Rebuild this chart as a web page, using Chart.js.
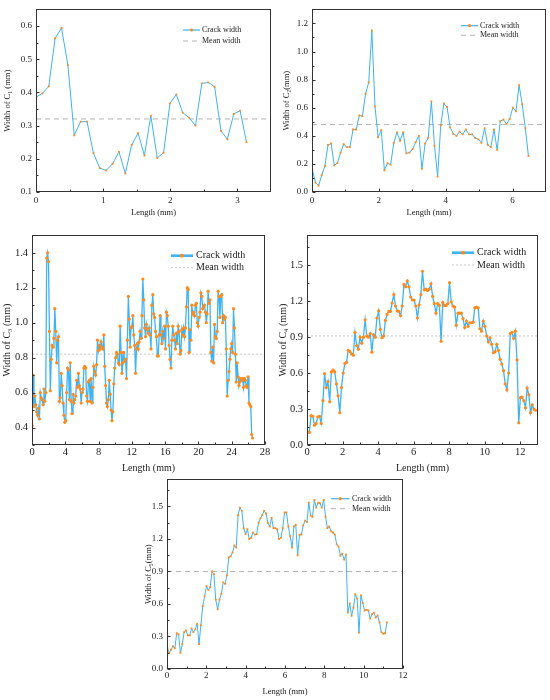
<!DOCTYPE html>
<html>
<head>
<meta charset="utf-8">
<script src="https://cdn.jsdelivr.net/npm/chart.js@4.4.1/dist/chart.umd.min.js"></script>
<style>
  body { margin: 0; background: #fff; }
  #page { position: relative; width: 550px; height: 700px; overflow: hidden; }
  canvas { position: absolute; }
</style>
</head>
<body>
<div id="page">
  <canvas id="c1" width="275" height="222" style="left:0;top:0"></canvas>
  <canvas id="c2" width="275" height="222" style="left:275px;top:0"></canvas>
  <canvas id="c3" width="280" height="255" style="left:0;top:225px"></canvas>
  <canvas id="c4" width="275" height="255" style="left:275px;top:225px"></canvas>
  <canvas id="c5" width="270" height="230" style="left:140px;top:470px"></canvas>
</div>
<script>
// crack widths (mm) read along each crack, sampled at a fixed length step
const c1Width = [0.386, 0.397, 0.418, 0.563, 0.594, 0.482, 0.271, 0.312, 0.312, 0.217,
    0.172, 0.165, 0.185, 0.221, 0.156, 0.242, 0.277, 0.21, 0.33, 0.203,
    0.218, 0.367, 0.394, 0.339, 0.324, 0.30, 0.427, 0.43, 0.417, 0.284,
    0.259, 0.335, 0.345, 0.25];
const c1Start = 0, c1Step = 0.095, c1Mean = 0.32;

const c2Width = [0.16, 0.067, 0.046, 0.12, 0.185, 0.335, 0.345, 0.19, 0.205, 0.28,
    0.34, 0.32, 0.32, 0.445, 0.445, 0.545, 0.54, 0.70, 0.78, 1.15,
    0.61, 0.39, 0.44, 0.155, 0.205, 0.195, 0.35, 0.425, 0.365, 0.425,
    0.275, 0.28, 0.305, 0.355, 0.40, 0.165, 0.345, 0.385, 0.645, 0.33,
    0.11, 0.475, 0.63, 0.605, 0.46, 0.415, 0.40, 0.43, 0.41, 0.445,
    0.41, 0.41, 0.385, 0.375, 0.35, 0.455, 0.335, 0.32, 0.445, 0.30,
    0.505, 0.515, 0.485, 0.52, 0.60, 0.575, 0.76, 0.625, 0.455, 0.255];
const c2Start = 0.01, c2Step = 0.0937, c2Mean = 0.48;

const c3Width = [0.41, 0.70, 0.52, 0.58, 0.53, 0.49, 0.47, 0.51, 0.45,
    0.60, 0.57, 0.56, 0.53, 0.62, 0.55, 0.60, 1.37, 1.40,
    1.35, 0.95, 0.61, 0.79, 0.87, 0.86, 0.91, 1.08, 0.95,
    0.77, 0.90, 0.92, 0.55, 0.57, 0.71, 0.64, 0.54, 0.47,
    0.43, 0.44, 0.60, 0.74, 0.73, 0.56, 0.77, 0.55, 0.48,
    0.59, 0.54, 0.56, 0.58, 0.67, 0.63, 0.71, 0.64, 0.62,
    0.54, 0.60, 0.62, 0.74, 0.75, 0.74, 0.58, 0.55, 0.66,
    0.67, 0.55, 0.68, 0.54, 0.63, 0.75, 0.72, 0.70, 0.76,
    0.90, 0.84, 0.87, 0.85, 0.89, 0.86, 0.85, 0.93, 0.75,
    0.64, 0.54, 0.52, 0.56, 0.67, 0.59, 0.50, 0.44, 0.49,
    0.65, 0.74, 0.80, 0.83, 0.82, 0.77, 0.76, 0.98, 0.83,
    0.71, 0.77, 0.83, 0.78, 0.79, 0.68, 0.90, 1.15, 1.02,
    0.86, 0.97, 0.98, 1.04, 0.93, 0.87, 0.71, 0.85, 0.88, 0.85,
    0.89, 0.95, 0.91, 1.04, 1.25, 1.13, 0.97, 0.92, 0.99, 0.96,
    0.94, 0.97, 0.93, 0.85, 1.10, 1.16, 1.05, 1.03, 0.95, 0.92,
    0.81, 0.81, 0.93, 1.04, 0.93, 0.88, 0.95, 0.91, 0.98, 0.85,
    1.06, 1.04, 0.98, 0.87, 0.79, 0.74, 0.90, 0.98, 0.93, 0.90,
    0.85, 0.94, 0.88, 0.98, 0.95, 0.82, 0.84, 0.96, 0.93, 0.97,
    0.92, 0.97, 1.09, 1.20, 1.19, 0.83, 0.96, 0.90, 1.10,
    1.05, 1.06, 1.04, 1.10, 1.11, 1.00, 0.98, 1.03, 1.06,
    1.17, 1.15, 1.08, 1.09, 1.10, 1.06, 1.00, 1.05, 1.18,
    1.11, 1.13, 0.83, 0.78, 0.86, 0.77, 0.99, 0.92, 0.91,
    0.95, 1.18, 1.15, 1.03, 1.15, 1.16, 1.00, 1.04, 1.02,
    1.03, 0.85, 0.58, 0.67, 0.72, 0.79, 0.85, 0.88, 0.83,
    1.08, 0.97, 0.82, 0.66, 0.77, 0.69, 0.64, 0.66, 0.68,
    0.67, 0.68, 0.63, 0.68, 0.67, 0.64, 0.63, 0.69, 0.54,
    0.53, 0.52, 0.36, 0.34];
const c3Start = 0.02, c3Step = 0.109, c3Mean = 0.82;

const c4Width = [0.11, 0.105, 0.245, 0.24, 0.165, 0.18, 0.235, 0.24, 0.18, 0.37,
    0.595, 0.48, 0.53, 0.36, 0.61, 0.625, 0.61, 0.51, 0.41, 0.27,
    0.48, 0.60, 0.68, 0.69, 0.79, 0.78, 0.76, 0.75, 0.94, 0.83,
    0.80, 0.90, 0.85, 0.90, 1.045, 0.91, 0.90, 0.93, 0.775, 0.92,
    0.90, 1.06, 1.12, 0.965, 0.895, 0.91, 1.04, 1.09, 1.115, 1.115,
    1.185, 1.255, 1.16, 1.12, 1.115, 1.08, 1.16, 1.34, 1.32, 1.37,
    1.32, 1.235, 1.21, 1.21, 1.16, 1.06, 1.17, 1.255, 1.45, 1.295,
    1.30, 1.29, 1.30, 1.345, 1.24, 1.18, 1.10, 1.18, 1.165, 0.865,
    1.19, 1.165, 1.165, 1.18, 1.355, 1.195, 1.16, 1.15, 1.0, 1.10,
    1.10, 1.10, 1.055, 0.98, 1.035, 0.99, 1.02, 1.02, 1.025, 1.145,
    1.15, 1.145, 0.97, 0.95, 1.035, 0.99, 0.91, 0.86, 0.895, 0.84,
    0.77, 0.78, 0.84, 0.79, 0.715, 0.675, 0.62, 0.51, 0.46, 0.60,
    0.93, 0.94, 0.89, 0.95, 0.71, 0.185, 0.395, 0.40, 0.37, 0.31,
    0.475, 0.42, 0.27, 0.335, 0.30, 0.29];
const c4Start = 0.04, c4Step = 0.095, c4Mean = 0.91;

const c5Width = [0.19, 0.15, 0.18, 0.21, 0.19, 0.33, 0.32, 0.15, 0.23, 0.34,
    0.355, 0.31, 0.31, 0.375, 0.34, 0.365, 0.415, 0.23, 0.405, 0.58,
    0.67, 0.765, 0.73, 0.755, 0.90, 0.875, 0.64, 0.55, 0.64, 0.695,
    0.80, 0.785, 0.865, 1.03, 1.04, 1.075, 1.14, 1.12, 1.42, 1.49,
    1.46, 1.30, 1.245, 1.29, 1.20, 1.21, 1.26, 1.24, 1.245, 1.35,
    1.39, 1.42, 1.46, 1.435, 1.35, 1.315, 1.395, 1.30, 1.30, 1.29,
    1.20, 1.21, 1.30, 1.445, 1.445, 1.315, 1.225, 1.12, 1.315, 1.33,
    1.05, 1.24, 1.24, 1.325, 1.37, 1.355, 1.535, 1.415, 1.405, 1.56,
    1.49, 1.535, 1.53, 1.49, 1.56, 1.405, 1.30, 1.315, 1.27, 1.26,
    1.24, 1.15, 1.13, 1.045, 1.065, 1.01, 1.055, 0.52, 0.605, 0.49,
    0.565, 0.69, 0.65, 0.335, 0.68, 0.61, 0.54, 0.545, 0.54, 0.465,
    0.505, 0.52, 0.475, 0.495, 0.43, 0.34, 0.325, 0.33, 0.43];
const c5Start = 0.02, c5Step = 0.0946, c5Mean = 0.9;

// axis ticks
const c1XTicks = [0, 1, 2, 3];
const c1YTicks = [0.1, 0.2, 0.3, 0.4, 0.5, 0.6];
const c2XTicks = [0, 2, 4, 6];
const c2YTicks = [0.0, 0.2, 0.4, 0.6, 0.8, 1.0, 1.2];
const c3XTicks = [0, 4, 8, 12, 16, 20, 24, 28];
const c3YTicks = [0.4, 0.6, 0.8, 1.0, 1.2, 1.4];
const c4XTicks = [0, 2, 4, 6, 8, 10, 12];
const c4YTicks = [0.0, 0.3, 0.6, 0.9, 1.2, 1.5];
const c5XTicks = [0, 2, 4, 6, 8, 10, 12];
const c5YTicks = [0.0, 0.3, 0.6, 0.9, 1.2, 1.5];

const serif = '"Liberation Serif", "Times New Roman", serif';
const lineBlue = '#3fb3f2';
const dotOrange = '#ff8a1a';

// legend drawn inside the plot, top right
const insideLegend = {
    id: 'insideLegend',
    afterDraw(chart, args, opts) {
        const ctx = chart.ctx;
        const sets = chart.data.datasets;
        ctx.save();
        ctx.font = opts.size + 'px ' + serif;
        ctx.textBaseline = 'middle';
        opts.rows.forEach((y, i) => {
            const ds = sets[i];
            ctx.beginPath();
            ctx.setLineDash(ds.borderDash || []);
            ctx.strokeStyle = ds.borderColor;
            ctx.lineWidth = i === 0 ? opts.lineWidth : ds.borderWidth;
            ctx.moveTo(opts.x0, y);
            ctx.lineTo(opts.x1, y);
            ctx.stroke();
            ctx.setLineDash([]);
            if (ds.pointRadius) {
                ctx.fillStyle = dotOrange;
                ctx.beginPath();
                ctx.arc((opts.x0 + opts.x1) / 2, y, ds.pointRadius + 0.3, 0, Math.PI * 2);
                ctx.fill();
            }
            ctx.fillStyle = '#222';
            ctx.fillText(ds.label, opts.tx, y);
        });
        ctx.restore();
    }
};

// box round the plot area, with inward major and minor tick marks
const frame = {
    id: 'frame',
    afterDraw(chart) {
        const a = chart.chartArea;
        const ctx = chart.ctx;
        const left = Math.round(a.left) + 0.5, top = Math.round(a.top) + 0.5;
        const right = Math.round(a.right) - 0.5, bottom = Math.round(a.bottom) - 0.5;
        ctx.save();
        ctx.strokeStyle = '#333';
        ctx.lineWidth = 1;
        ctx.strokeRect(left, top, right - left, bottom - top);

        const marks = (scale) => {
            const vals = scale.ticks.map(t => t.value);
            const half = (vals[1] - vals[0]) / 2;
            const minor = [];
            vals.forEach(v => minor.push(v + half));
            minor.push(vals[0] - half);
            return { major: vals, minor: minor.filter(v => v > scale.min && v < scale.max) };
        };
        ctx.beginPath();
        const xs = chart.scales.x, ys = chart.scales.y;
        const xm = marks(xs), ym = marks(ys);
        xm.major.forEach(v => { const p = Math.round(xs.getPixelForValue(v)) + 0.5; ctx.moveTo(p, bottom); ctx.lineTo(p, bottom - 3); });
        xm.minor.forEach(v => { const p = Math.round(xs.getPixelForValue(v)) + 0.5; ctx.moveTo(p, bottom); ctx.lineTo(p, bottom - 2); });
        ym.major.forEach(v => { const p = Math.round(ys.getPixelForValue(v)) + 0.5; ctx.moveTo(left, p); ctx.lineTo(left + 3, p); });
        ym.minor.forEach(v => { const p = Math.round(ys.getPixelForValue(v)) + 0.5; ctx.moveTo(left, p); ctx.lineTo(left + 2, p); });
        ctx.stroke();
        ctx.restore();
    }
};

function makePanel(id, p) {
    const points = p.widths.map((w, i) => ({ x: p.start + i * p.step, y: w }));
    const canvas = document.getElementById(id);
    return new Chart(canvas.getContext('2d'), {
        type: 'line',
        data: {
            datasets: [
                {
                    label: 'Crack width',
                    data: points,
                    borderColor: lineBlue,
                    borderWidth: p.lineWidth,
                    pointBackgroundColor: dotOrange,
                    pointBorderWidth: 0,
                    pointRadius: p.pointRadius,
                    pointStyle: p.pointStyle,
                    tension: 0
                },
                {
                    label: 'Mean width',
                    data: [{ x: p.xMin, y: p.mean }, { x: p.xMax, y: p.mean }],
                    borderColor: p.meanColor,
                    borderWidth: 1,
                    borderDash: p.meanDash,
                    pointRadius: 0
                }
            ]
        },
        options: {
            responsive: false,
            animation: false,
            layout: { padding: { left: 0, top: p.padTop, right: p.padRight, bottom: 0 } },
            plugins: {
                legend: { display: false },
                tooltip: { enabled: false },
                insideLegend: p.legend
            },
            scales: {
                x: {
                    type: 'linear',
                    min: p.xMin,
                    max: p.xMax,
                    afterBuildTicks: s => { s.ticks = p.xTicks.map(v => ({ value: v })); },
                    afterFit: s => { s.height = p.xAxisH; },
                    border: { display: false },
                    grid: { drawOnChartArea: false, drawTicks: false },
                    ticks: {
                        padding: p.xTickPad,
                        color: '#222',
                        font: { family: serif, size: p.tickSize },
                        callback: v => String(v)
                    },
                    title: {
                        display: true,
                        text: 'Length (mm)',
                        color: '#222',
                        font: { family: serif, size: p.titleSize },
                        padding: { top: 0, bottom: p.xTitlePad }
                    }
                },
                y: {
                    min: p.yMin,
                    max: p.yMax,
                    afterBuildTicks: s => { s.ticks = p.yTicks.map(v => ({ value: v })); },
                    afterFit: s => { s.width = p.yAxisW; },
                    border: { display: false },
                    grid: { drawOnChartArea: false, drawTicks: false },
                    ticks: {
                        padding: 4,
                        color: '#222',
                        font: { family: serif, size: p.tickSize },
                        callback: v => v.toFixed(1)
                    },
                    title: {
                        display: true,
                        text: p.yTitle,
                        color: '#222',
                        font: { family: serif, size: p.titleSize },
                        padding: { top: p.yTitlePad, bottom: 0 }
                    }
                }
            }
        },
        plugins: [insideLegend, frame]
    });
}

makePanel('c1', {
    widths: c1Width, start: c1Start, step: c1Step, mean: c1Mean,
    xMin: 0, xMax: 3.5, yMin: 0.1, yMax: 0.65, xTicks: c1XTicks, yTicks: c1YTicks,
    yTitle: 'Width of C\u2081 (mm)',
    tickSize: 9, titleSize: 8.5, yAxisW: 36, xAxisH: 30, padTop: 5, padRight: 4,
    xTickPad: 3.3, yTitlePad: 2.2, xTitlePad: 3.9,
    lineWidth: 1, pointRadius: 1.3, pointStyle: 'rect',
    meanColor: '#b4b4b4', meanDash: [5, 4],
    legend: { x0: 183, x1: 200, tx: 202, rows: [30, 41], size: 8, lineWidth: 1.2 }
});

makePanel('c2', {
    widths: c2Width, start: c2Start, step: c2Step, mean: c2Mean,
    xMin: 0, xMax: 7, yMin: 0, yMax: 1.3, xTicks: c2XTicks, yTicks: c2YTicks,
    yTitle: 'Width of C\u2082(mm)',
    tickSize: 9, titleSize: 8.5, yAxisW: 37, xAxisH: 30, padTop: 5, padRight: 4,
    xTickPad: 3.3, yTitlePad: 7, xTitlePad: 3.9,
    lineWidth: 1, pointRadius: 1.3, pointStyle: 'rect',
    meanColor: '#b4b4b4', meanDash: [5, 4],
    legend: { x0: 186, x1: 203, tx: 205, rows: [25.7, 35.3], size: 8, lineWidth: 1.2 }
});

makePanel('c3', {
    widths: c3Width, start: c3Start, step: c3Step, mean: c3Mean,
    xMin: 0, xMax: 28, yMin: 0.3, yMax: 1.5, xTicks: c3XTicks, yTicks: c3YTicks,
    yTitle: 'Width of C\u2083 (mm)',
    tickSize: 10.5, titleSize: 10, yAxisW: 32, xAxisH: 35, padTop: 8, padRight: 15,
    xTickPad: 0.5, yTitlePad: 1.3, xTitlePad: 6,
    lineWidth: 1.3, pointRadius: 1.6, pointStyle: 'circle',
    meanColor: '#c8c8c8', meanDash: [2, 2],
    legend: { x0: 171, x1: 193, tx: 196, rows: [30.7, 42.7], size: 10, lineWidth: 2.6 }
});

makePanel('c4', {
    widths: c4Width, start: c4Start, step: c4Step, mean: c4Mean,
    xMin: 0, xMax: 13, yMin: 0, yMax: 1.75, xTicks: c4XTicks, yTicks: c4YTicks,
    yTitle: 'Width of C\u2084 (mm)',
    tickSize: 10.5, titleSize: 10, yAxisW: 32, xAxisH: 35, padTop: 8, padRight: 12,
    xTickPad: 0.5, yTitlePad: 2.3, xTitlePad: 6,
    lineWidth: 1.3, pointRadius: 1.6, pointStyle: 'circle',
    meanColor: '#c8c8c8', meanDash: [2, 2],
    legend: { x0: 177, x1: 199, tx: 202, rows: [27.7, 40], size: 10, lineWidth: 2.6 }
});

makePanel('c5', {
    widths: c5Width, start: c5Start, step: c5Step, mean: c5Mean,
    xMin: 0, xMax: 12, yMin: 0, yMax: 1.75, xTicks: c5XTicks, yTicks: c5YTicks,
    yTitle: 'Width of C\u2085(mm)',
    tickSize: 9, titleSize: 8.5, yAxisW: 27, xAxisH: 31, padTop: 8, padRight: 7,
    xTickPad: 1.3, yTitlePad: 3.9, xTitlePad: 2.9,
    lineWidth: 1, pointRadius: 1.3, pointStyle: 'rect',
    meanColor: '#b4b4b4', meanDash: [5, 4],
    legend: { x0: 191, x1: 209.5, tx: 212, rows: [28.7, 38.7], size: 8, lineWidth: 1.2 }
});
</script>
</body>
</html>
